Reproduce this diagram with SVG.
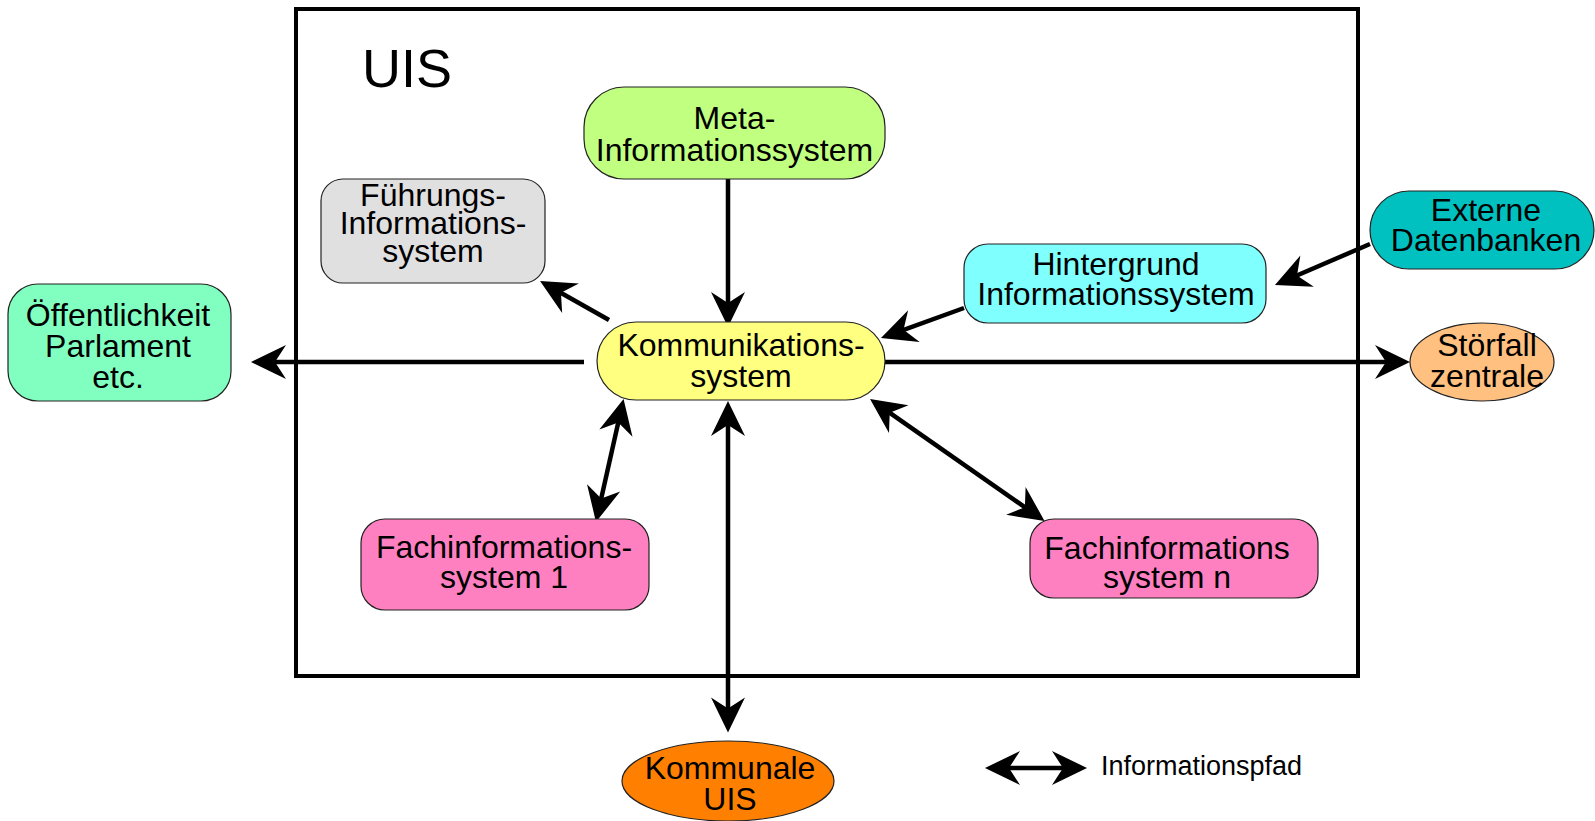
<svg xmlns="http://www.w3.org/2000/svg" width="1595" height="821" viewBox="0 0 1595 821">
<style>
text{font-family:"Liberation Sans",Arial,sans-serif;font-size:32px;fill:#000;text-anchor:middle}
.n{stroke:#222;stroke-width:1.2}
.c{stroke:#000;stroke-width:4.5;fill:none;marker-end:url(#ah)}
.b{marker-start:url(#ah)}
</style>
<defs>
<marker id="ah" viewBox="-28 -18 37 36" refX="0" refY="0" markerWidth="37" markerHeight="36" markerUnits="userSpaceOnUse" orient="auto-start-reverse">
<path d="M8,0 L-27,-17 L-16,0 L-27,17 Z" fill="#000"/>
</marker>
</defs>
<rect id="uis-frame" x="296" y="9" width="1062" height="667" fill="none" stroke="#000" stroke-width="4"/>
<text x="362" y="87" style="font-size:54px;text-anchor:start">UIS</text>
<g id="connectors">
<path class="c" d="M728,179 L728,319"/>
<path class="c" d="M609,320 L547,285"/>
<path class="c" d="M964,308 L888.5,335.3"/>
<path class="c" d="M1370,244 L1282.3,281.8"/>
<path class="c" d="M584,362 L259,362"/>
<path class="c" d="M885,362 L1402,362"/>
<path class="c b" d="M621.8,406.8 L597.7,514.2"/>
<path class="c b" d="M876.6,403.6 L1038,516.4"/>
<path class="c b" d="M728,409 L728,724.5"/>
</g>
<g id="meta"><rect class="n" x="584" y="87" width="301" height="92" rx="40" fill="#c0ff80"/><text x="734.5" y="129">Meta-</text><text x="734.5" y="161">Informationssystem</text></g>
<g id="fuehrung"><rect class="n" x="321" y="179" width="224" height="104" rx="22" fill="#e0e0e0"/><text x="433" y="206">Führungs-</text><text x="433" y="234">Informations-</text><text x="433" y="262">system</text></g>
<g id="oeffentlichkeit"><rect class="n" x="8" y="284" width="223" height="117" rx="30" fill="#80ffc0"/><text x="118" y="326">Öffentlichkeit</text><text x="118" y="357">Parlament</text><text x="118" y="388">etc.</text></g>
<g id="kommunikation"><rect class="n" x="597" y="322" width="288" height="78" rx="39" fill="#ffff80"/><text x="741" y="356">Kommunikations-</text><text x="741" y="387">system</text></g>
<g id="hintergrund"><rect class="n" x="964" y="244" width="302" height="79" rx="24" fill="#80ffff"/><text x="1116" y="275">Hintergrund</text><text x="1116" y="305">Informationssystem</text></g>
<g id="externe"><rect class="n" x="1370" y="191" width="224" height="78" rx="39" fill="#00c0c0"/><text x="1486" y="221">Externe</text><text x="1486" y="251">Datenbanken</text></g>
<g id="stoerfall"><ellipse class="n" cx="1482" cy="362" rx="72" ry="39" fill="#ffc080"/><text x="1487" y="356">Störfall</text><text x="1487" y="387">zentrale</text></g>
<g id="fach1"><rect class="n" x="361" y="519" width="288" height="91" rx="24" fill="#ff80c0"/><text x="504" y="558">Fachinformations-</text><text x="504" y="588">system 1</text></g>
<g id="fachn"><rect class="n" x="1030" y="519" width="288" height="79" rx="24" fill="#ff80c0"/><text x="1167" y="559">Fachinformations</text><text x="1167" y="588">system n</text></g>
<g id="kommunale"><ellipse class="n" cx="728" cy="781" rx="106" ry="40" fill="#ff8000"/><text x="730" y="779">Kommunale</text><text x="730" y="810">UIS</text></g>
<g id="legend"><path class="c b" d="M993,768 L1079,768"/><text x="1101" y="775" style="font-size:27px;text-anchor:start">Informationspfad</text></g>
</svg>
